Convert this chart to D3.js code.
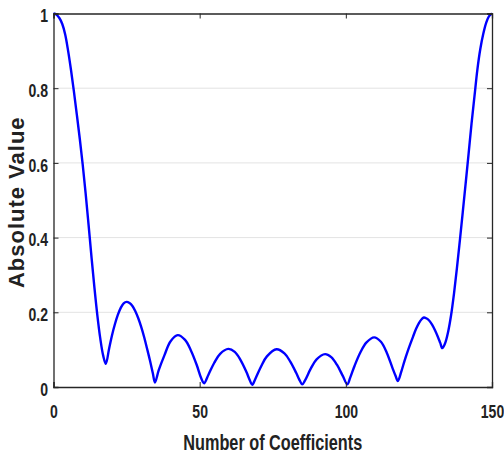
<!DOCTYPE html>
<html>
<head>
<meta charset="utf-8">
<script src="https://cdn.jsdelivr.net/npm/d3@7"></script>
<style>
  html, body { margin: 0; padding: 0; background: #ffffff; }
  svg { display: block; }
</style>
</head>
<body>
<svg id="chart" width="504" height="457"></svg>
<script>
// ---- data ----
const coefIndex = [0,1,2,3,4,5,6,7,8,9,10,11,12,13,14,15,16,17,17.9,19,20,21,22,23,24,25,26,27,28,29,30,31,32,33,34,34.7,36,38,40,42.5,45,47,49,50.5,51.5,53,55,57,59.8,62,64,66,67,68,69,71,73,76.3,79,81,83,84,85.1,86,88,90,92.9,95,97,99,100.5,101.5,103,105,107,109.7,112,114,116,117,117.8,119,120,121,122,123,124,125,126,126.7,127.5,128.5,129.5,130.5,131.5,132.3,133,134,135,136,137,138,139,140,141,142,143,144,145,146,147,148,149,150];
const absValue = [1.0,0.997,0.988,0.972,0.944,0.9,0.848,0.79,0.728,0.664,0.595,0.518,0.434,0.348,0.266,0.192,0.13,0.084,0.062,0.102,0.138,0.168,0.193,0.212,0.224,0.228,0.225,0.217,0.203,0.184,0.161,0.134,0.103,0.071,0.036,0.012,0.045,0.086,0.122,0.139,0.126,0.098,0.059,0.024,0.01,0.033,0.065,0.089,0.102,0.094,0.072,0.04,0.021,0.006,0.021,0.055,0.082,0.101,0.09,0.068,0.038,0.021,0.007,0.017,0.049,0.074,0.088,0.08,0.059,0.029,0.007,0.025,0.057,0.093,0.119,0.133,0.121,0.092,0.05,0.03,0.016,0.042,0.068,0.092,0.114,0.135,0.155,0.171,0.182,0.186,0.184,0.178,0.167,0.152,0.134,0.118,0.104,0.118,0.148,0.192,0.25,0.318,0.392,0.468,0.546,0.625,0.705,0.778,0.85,0.905,0.945,0.975,0.993,1.0];
const xTicks = [0, 50, 100, 150];
const yTicks = [0, 0.2, 0.4, 0.6, 0.8, 1];
const yTickLabels = ["0", "0.2", "0.4", "0.6", "0.8", "1"];
const xLabel = "Number of Coefficients";
const yLabel = "Absolute Value";

// ---- layout ----
const svg = d3.select("#chart");
const mLeft = 53.5, mRight = 492, mTop = 13.5, mBottom = 387;
const x = d3.scaleLinear().domain([0, 150]).range([mLeft, mRight]);
const y = d3.scaleLinear().domain([0, 1]).range([mBottom, mTop]);
const axisColor = "#262626";
const textColor = "#222222";
const baseFont = "'Liberation Sans', Arial, sans-serif";
const tickScaleX = 0.78;

// gridlines
svg.append("g").selectAll("line")
  .data(yTicks.filter(d => d > 0 && d < 1))
  .join("line")
  .attr("x1", mLeft).attr("x2", mRight)
  .attr("y1", d => y(d)).attr("y2", d => y(d))
  .attr("stroke", "#e3e3e3").attr("stroke-width", 1);

// curve
const line = d3.line()
  .x((d, i) => x(coefIndex[i]))
  .y(d => y(d))
  .curve(d3.curveCatmullRom.alpha(0.5));
svg.append("path")
  .datum(absValue)
  .attr("d", line)
  .attr("fill", "none")
  .attr("stroke", "#0000ff")
  .attr("stroke-width", 2.4)
  .attr("stroke-linejoin", "round");

// axes (box with inward ticks)
const tickLen = 5;
const gB = svg.append("g").attr("transform", `translate(0,${mBottom})`)
  .call(d3.axisBottom(x).tickValues(xTicks).tickSize(-tickLen).tickPadding(18).tickFormat(d3.format("d")));
const gT = svg.append("g").attr("transform", `translate(0,${mTop})`)
  .call(d3.axisTop(x).tickValues(xTicks).tickSize(-tickLen).tickFormat(""));
const gL = svg.append("g").attr("transform", `translate(${mLeft},0)`)
  .call(d3.axisLeft(y).tickValues(yTicks).tickSize(-tickLen).tickPadding(5.5 / tickScaleX).tickFormat((d, i) => yTickLabels[i]));
const gR = svg.append("g").attr("transform", `translate(${mRight},0)`)
  .call(d3.axisRight(y).tickValues(yTicks).tickSize(-tickLen).tickFormat(""));

[gB, gT, gL, gR].forEach(g => {
  g.select(".domain").attr("stroke", axisColor).attr("stroke-width", 1.3);
  g.selectAll(".tick line").attr("stroke", axisColor).attr("stroke-width", 1);
  g.selectAll("text")
    .attr("fill", textColor)
    .attr("font-family", baseFont)
    .attr("font-weight", "bold")
    .attr("font-size", 18)
    .attr("transform", `scale(${tickScaleX},1)`);
});
gL.selectAll("text").attr("dy", "0.46em");
gB.selectAll("text").attr("dy", "0.71em");

// axis titles
svg.append("text")
  .attr("transform", `translate(${(mLeft + mRight) / 2},450) scale(0.74,1)`)
  .attr("text-anchor", "middle")
  .attr("font-family", baseFont)
  .attr("font-weight", "bold")
  .attr("font-size", 22)
  .attr("fill", textColor)
  .text(xLabel);

svg.append("text")
  .attr("transform", `translate(24,${(mTop + mBottom) / 2 + 2}) rotate(-90)`)
  .attr("text-anchor", "middle")
  .attr("font-family", baseFont)
  .attr("font-weight", "bold")
  .attr("font-size", 22)
  .attr("letter-spacing", 1)
  .attr("fill", textColor)
  .text(yLabel);
</script>
</body>
</html>
